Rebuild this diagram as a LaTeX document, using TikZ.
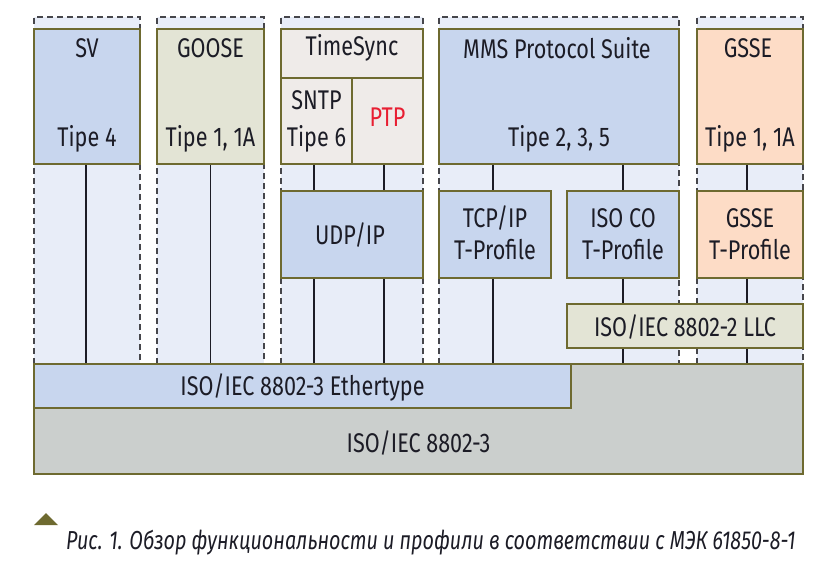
\documentclass[tikz,border=0pt]{standalone}
\usepackage{fontspec}
\setmainfont{Fira Sans}[FakeStretch=0.8]
\newfontfamily\capfont{Fira Sans}[FakeStretch=0.76]
\definecolor{olive}{RGB}{110,106,48}
\definecolor{colbg}{RGB}{232,237,248}
\definecolor{bluebox}{RGB}{200,214,238}
\definecolor{greenbox}{RGB}{227,228,213}
\definecolor{graybox}{RGB}{239,235,233}
\definecolor{peach}{RGB}{253,220,198}
\definecolor{basegray}{RGB}{203,207,205}
\definecolor{dashgray}{RGB}{70,70,75}
\definecolor{ink}{RGB}{28,28,38}
\definecolor{ptpred}{RGB}{232,30,50}
\tikzset{
  colline/.style={draw=dashgray, line width=1.3pt, dash pattern=on 6pt off 4pt},
  pbox/.style={draw=olive, line width=2.8pt, inner sep=0pt, outer sep=0pt},
  rim/.style={draw=olive, line width=2.8pt},
  conn/.style={draw=ink, line width=1.8pt},
  lbl/.style={text=ink, font=\fontsize{27}{30}\selectfont, inner sep=0pt, align=center},
}
\begin{document}
\begin{tikzpicture}[x=1pt,y=-1pt]
\useasboundingbox (0,0) rectangle (830,564);
% columns
\foreach \a/\b in {34/140,157/264,281/423,439/679,697/803}{
  \fill[colbg] (\a,17) rectangle (\b,364);
  \draw[colline] (\a,364) -- (\a,17) -- (\b,17) -- (\b,364);
}
% boxes
\node[pbox, fill=bluebox, minimum width=106, minimum height=135] (sv) at (87,96.5) {};
\node[pbox, fill=greenbox, minimum width=107, minimum height=135] (goose) at (210.5,96.5) {};
\node[pbox, fill=graybox, minimum width=142, minimum height=49] (ts) at (352,53.5) {};
\node[pbox, fill=graybox, minimum width=71, minimum height=86] (sntp) at (316.5,121) {};
\node[pbox, fill=graybox, minimum width=71, minimum height=86] (ptp) at (387.5,121) {};
\node[pbox, fill=bluebox, minimum width=240, minimum height=135] (mms) at (559,96.5) {};
\node[pbox, fill=peach, minimum width=106, minimum height=135] (gsse) at (750,96.5) {};
\node[pbox, fill=bluebox, minimum width=142, minimum height=87] (udp) at (352,234.5) {};
\node[pbox, fill=bluebox, minimum width=112, minimum height=87] (tcp) at (495,234.5) {};
\node[pbox, fill=bluebox, minimum width=112, minimum height=87] (isoco) at (623,234.5) {};
\node[pbox, fill=peach, minimum width=106, minimum height=87] (gsset) at (750,234.5) {};
\node[pbox, fill=greenbox, minimum width=236, minimum height=44] (llc) at (685,326) {};
\node[pbox, fill=basegray, minimum width=769, minimum height=110] (base) at (418.5,419) {};
\node[pbox, fill=bluebox, minimum width=537, minimum height=44] (eth) at (302.5,386) {};
% connectors
\draw[conn] ([xshift=-1]sv.south) -- ([xshift=-1]sv.south |- eth.north);
\draw[conn] (goose.south) -- (goose.south |- eth.north);
\draw[conn] ([xshift=-2.5]sntp.south) -- ([xshift=-38]udp.north);
\draw[conn] ([xshift=-3.5]ptp.south) -- ([xshift=32]udp.north);
\draw[conn] ([xshift=-38]udp.south) -- ([xshift=-38]udp.south |- eth.north);
\draw[conn] ([xshift=32]udp.south) -- ([xshift=32]udp.south |- eth.north);
\draw[conn] ([xshift=-2]tcp.north) -- ([xshift=-2]tcp.north |- mms.south);
\draw[conn] (isoco.north) -- (isoco.north |- mms.south);
\draw[conn] ([xshift=-3]gsset.north) -- ([xshift=-3]gsset.north |- gsse.south);
\draw[conn] ([xshift=-2]tcp.south) -- ([xshift=-2]tcp.south |- eth.north);
\draw[conn] (isoco.south) -- (isoco.south |- llc.north);
\draw[conn] (isoco.south |- llc.south) -- (isoco.south |- base.north);
\draw[conn] ([xshift=-3]gsset.south) -- ([xshift=-3]gsset.south |- llc.north);
\draw[conn] ([xshift=-3]gsset.south |- llc.south) -- ([xshift=-3]gsset.south |- base.north);
% redraw borders over connector ends
\foreach \n in {sv,goose,ts,sntp,ptp,mms,gsse,udp,tcp,isoco,gsset,llc,base,eth}{
  \draw[rim] (\n.north west) rectangle (\n.south east);
}
% labels
\node[lbl] (t1) at (87,48) {SV};
\node[lbl] (t2) at (87,139) {Tipe 4};
\node[lbl] (t3) at (210.5,48) {GOOSE};
\node[lbl] (t4) at (210.5,139) {Tipe 1, 1A};
\node[lbl] (t5) at (352,48) {TimeSync};
\node[lbl] (t6) at (316.5,100) {SNTP};
\node[lbl] (t7) at (316.5,139) {Tipe 6};
\node[lbl, text=ptpred] (t8) at (387.5,117) {PTP};
\node[lbl] (t9) at (557,48) {MMS Protocol Suite};
\node[lbl] (t10) at (559,139) {Tipe 2, 3, 5};
\node[lbl] (t11) at (748,48) {GSSE};
\node[lbl] (t12) at (750,139) {Tipe 1, 1A};
\node[lbl] (t13) at (350,235) {UDP/IP};
\node[lbl] (t14) at (495,218) {TCP/IP};
\node[lbl] (t15) at (495,250) {T-Profile};
\node[lbl] (t16) at (623,218) {ISO CO};
\node[lbl] (t17) at (623,250) {T-Profile};
\node[lbl] (t18) at (750,218) {GSSE};
\node[lbl] (t19) at (750,250) {T-Profile};
\node[lbl] (t20) at (685,327) {ISO/IEC 8802-2 LLC};
\node[lbl] (t21) at (302.5,387) {ISO/IEC 8802-3 Ethertype};
\node[lbl] (t22) at (418.5,443) {ISO/IEC 8802-3};
% caption
\fill[olive] (34,525) -- (46,513) -- (58,525) -- cycle;
\node[anchor=base west, inner sep=0pt, text=ink, font=\capfont\itshape\fontsize{26}{30}\selectfont] (cap) at (66,549) {Рис. 1. Обзор функциональности и профили в соответствии с МЭК 61850-8-1};
\end{tikzpicture}
\end{document}
